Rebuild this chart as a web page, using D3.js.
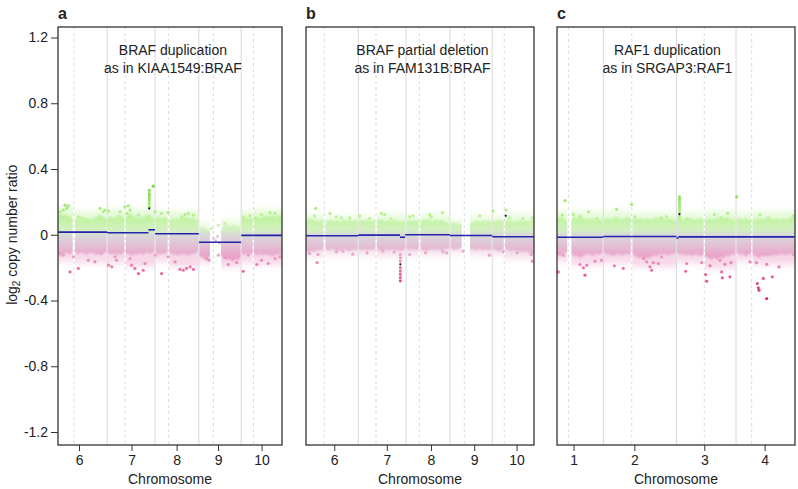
<!DOCTYPE html>
<html lang="en">
<head>
<meta charset="UTF-8">
<title>Copy number profiles</title>
<script src="https://d3js.org/d3.v7.min.js"></script>
<style>
    body { margin: 0; background: #fff; }
    text { font-family: "Liberation Sans", Arial, sans-serif; fill: #222; }
</style>
</head>
<body>
<script>
// ---- data (positions are cumulative Mb inside each panel) ----
const yTicks = [-1.2, -0.8, -0.4, 0, 0.4, 0.8, 1.2];

// panel a
const namesA = ["6", "7", "8", "9", "10"];
const lensA = [171, 159, 146, 141, 136];
const centA = [60, 59.5, 45.5, 48.5, 41];
const tickOffA = [77, 81, 72, 64, 68];
const viewA = [7, 753];
const segA = [[7, 171, 0.016], [171, 308, 0.012], [308, 330, 0.03], [330, 476, 0.006], [476, 617, -0.046], [617, 753, -0.004]];
const bandA = [
    [7, .11, -.12], [15, .13, -.13], [25, .12, -.12], [35, .12, -.11], [45, .11, -.12], [55, .10, -.11], null,
    [64, .09, -.11], [75, .10, -.12], [85, .095, -.11], [95, .10, -.115], [105, .10, -.12], [115, .095, -.11], [125, .10, -.115], [135, .11, -.12], [145, .12, -.12], [155, .11, -.115], [165, .10, -.11], [169, .095, -.11], null,
    [173, .10, -.11], [183, .11, -.12], [193, .10, -.115], [203, .11, -.12], [213, .12, -.12], [223, .11, -.115], [228, .10, -.11], null,
    [233, .11, -.115], [243, .13, -.12], [253, .12, -.125], [263, .11, -.12], [273, .10, -.12], [283, .105, -.115], [293, .11, -.12], [303, .12, -.11], [313, .12, -.115], [323, .10, -.11], [328, .09, -.10], null,
    [332, .10, -.11], [342, .11, -.12], [352, .10, -.115], [362, .11, -.115], [372, .10, -.11], null,
    [378, .09, -.11], [388, .10, -.12], [398, .095, -.12], [408, .10, -.125], [418, .10, -.12], [428, .11, -.12], [438, .105, -.125], [448, .10, -.12], [458, .10, -.115], [468, .095, -.11], [474, .08, -.10], null,
    [478, .04, -.13], [488, .05, -.14], [498, .04, -.15], [508, .03, -.14], [513, .02, -.13], null,
    [550, .03, -.13], [558, .05, -.14], [568, .06, -.15], [578, .05, -.15], [588, .06, -.16], [598, .05, -.15], [608, .05, -.15], [615, .04, -.14], null,
    [619, .10, -.12], [629, .11, -.12], [639, .10, -.115], [649, .105, -.12], [655, .10, -.11], null,
    [660, .10, -.12], [670, .11, -.125], [680, .10, -.12], [690, .11, -.125], [700, .115, -.12], [710, .11, -.125], [720, .12, -.13], [730, .11, -.125], [740, .115, -.12], [753, .12, -.12]
];
// sparse outer fringe of the cloud: [start, end, top, bottom]
const fringeA = [
    [7, 57, .16, -.16], [63, 169, .14, -.17], [173, 228, .15, -.17], [233, 328, .15, -.19],
    [332, 372, .14, -.16], [378, 474, .14, -.19], [478, 513, .07, -.17], [550, 615, .09, -.19],
    [619, 655, .14, -.17], [660, 753, .15, -.18]
];
const dotsA = [
    [13.7, .14], [24.8, .15], [30.3, .18], [35.9, .16], [41.4, .176], [74.7, .109], [85.8, .103], [146.9, .16], [158, .14], [163.5, .15], [174.6, .144],
    [213.5, .14], [230.1, .17], [241.2, .176], [246.8, .15], [235.7, .13], [274.5, .119], [330, .14], [352, .13], [374, .136], [419, .109], [430, .123],
    [441, .13], [458, .119], [502, .018], [519, .038], [541, .058], [563, .069], [624, .109], [646, .115], [663, .103], [685, .123], [713, .134], [730, .13],
    [311, .27], [311, .25], [311, .235], [311, .22], [311, .205], [311, .19], [311, .175], [324, .296],
    [525, -.02], [532, -.035], [538, -.01], [544, -.05],
    [13.7, -.114], [24.8, -.124], [47, -.226], [58, -.134], [74.7, -.205], [108, -.155], [130, -.165], [152, -.114], [175, -.185], [186, -.195],
    [197, -.134], [202, -.155], [247, -.145], [252, -.185], [263, -.205], [275, -.236], [291, -.216], [297, -.175], [330, -.124], [352, -.236],
    [374, -.134], [397, -.165], [413, -.211], [424, -.216], [435, -.205], [447, -.195], [458, -.211], [485, -.114], [502, -.145], [510, -.155],
    [541, -.124], [563, -.14], [574, -.181], [602, -.169], [624, -.222], [641, -.124], [669, -.181], [685, -.155], [707, -.175], [730, -.145], [746, -.134]
];
const markA = [[311, .16]];

// panel b
const namesB = ["6", "7", "8", "9", "10"];
const lensB = [171, 159, 146, 141, 136];
const centB = [58, 59, 44.5, 48, 40];
const tickOffB = [91, 95, 83, 81, 81];
const viewB = [-3, 756];
const segB = [[-3, 171, -0.006], [171, 310, -0.002], [310, 327, -0.015], [327, 476, 0], [476, 617, -0.005], [617, 756, -0.012]];
const bandB = [
    [-3, .09, -.10], [7, .10, -.105], [17, .095, -.10], [27, .09, -.10], [37, .085, -.095], [47, .09, -.09], [55, .085, -.09], null,
    [62, .08, -.09], [72, .085, -.095], [82, .09, -.09], [92, .085, -.095], [102, .09, -.10], [112, .085, -.095], [122, .09, -.09], [132, .085, -.095], [142, .09, -.10], [152, .085, -.09], [162, .09, -.095], [169, .08, -.09], null,
    [173, .085, -.09], [183, .09, -.095], [193, .085, -.09], [203, .09, -.095], [213, .085, -.09], [223, .09, -.09], [228, .08, -.085], null,
    [233, .085, -.09], [243, .095, -.095], [253, .09, -.10], [263, .085, -.09], [273, .09, -.095], [283, .085, -.09], [293, .09, -.095], [303, .085, -.095], [313, .08, -.10], [323, .085, -.09], [328, .08, -.085], null,
    [332, .085, -.09], [342, .09, -.095], [352, .085, -.09], [362, .09, -.095], [372, .085, -.09], null,
    [378, .08, -.09], [388, .09, -.095], [398, .095, -.10], [408, .09, -.095], [418, .085, -.09], [428, .09, -.095], [438, .085, -.09], [448, .09, -.10], [458, .08, -.09], [468, .075, -.085], [474, .06, -.08], null,
    [478, .07, -.085], [488, .075, -.09], [498, .07, -.09], [508, .065, -.085], [515, .06, -.08], null,
    [543, .07, -.085], [555, .08, -.09], [565, .085, -.095], [575, .08, -.09], [585, .085, -.095], [595, .08, -.09], [605, .085, -.095], [615, .08, -.09], null,
    [619, .08, -.09], [629, .085, -.095], [639, .09, -.10], [649, .085, -.095], [655, .08, -.09], null,
    [660, .085, -.09], [670, .09, -.095], [680, .085, -.10], [690, .08, -.095], [700, .085, -.10], [710, .09, -.10], [720, .085, -.105], [730, .08, -.10], [740, .085, -.11], [756, .09, -.12]
];
const fringeB = [
    [-3, 55, .12, -.13], [62, 169, .11, -.12], [173, 228, .11, -.12], [233, 328, .12, -.13],
    [332, 372, .11, -.12], [378, 474, .12, -.12], [478, 515, .09, -.11], [543, 615, .11, -.12],
    [619, 655, .11, -.12], [660, 756, .12, -.14]
];
const dotsB = [
    [29, .16], [26, .115], [77, .13], [98, .109], [115, .103], [142, .103], [176, .115], [209, .099], [248, .13], [259, .123], [281, .099],
    [342, .109], [353, .115], [409, .123], [414, .109], [451, .134], [575, .115], [620, .144], [663, .15], [675, .103], [719, .099], [750, .103],
    [311, -.12], [311, -.14], [311, -.16], [311, -.20], [311, -.22], [311, -.24], [311, -.26], [311, -.28],
    [9, -.114], [34, -.169], [37, -.12], [98, -.104], [120, -.10], [153, -.118], [200, -.11], [253, -.10], [290, -.105], [342, -.12],
    [395, -.11], [453, -.104], [465, -.11], [520, -.10], [608, -.124], [653, -.104], [700, -.11], [747, -.12], [750, -.161]
];
const markB = [[311, -.18], [662, .115]];

// panel c
const namesC = ["1", "2", "3", "4"];
const lensC = [249, 243, 198, 191];
const centC = [133, 94.3, 92.5, 52];
const tickOffC = [150, 103, 92.5, 95];
const viewC = [95, 886];
const segC = [[95, 249, -0.015], [249, 492, -0.011], [492, 498, -0.021], [498, 886, -0.013]];
const bandC = [
    [95, .10, -.12], [105, .11, -.13], [115, .10, -.12], [125, .09, -.11], [129, .08, -.10], null,
    [143, .09, -.12], [153, .11, -.13], [163, .10, -.13], [173, .11, -.14], [183, .10, -.13], [193, .10, -.12], [203, .095, -.12], [213, .10, -.13], [223, .09, -.12], [233, .10, -.12], [243, .09, -.115], [247, .085, -.11], null,
    [251, .09, -.11], [261, .10, -.12], [271, .095, -.12], [281, .10, -.13], [291, .11, -.12], [301, .10, -.12], [311, .095, -.125], [321, .10, -.12], [331, .11, -.12], [340, .10, -.115], null,
    [346, .095, -.12], [356, .10, -.13], [366, .095, -.14], [376, .10, -.14], [386, .09, -.15], [396, .10, -.14], [406, .095, -.14], [416, .10, -.13], [426, .105, -.13], [436, .10, -.12], [446, .105, -.12], [456, .095, -.12], [466, .10, -.125], [476, .095, -.12], [486, .09, -.115], [490, .085, -.11], null,
    [494, .09, -.11], [504, .10, -.12], [514, .095, -.12], [524, .10, -.125], [534, .095, -.12], [544, .10, -.13], [554, .09, -.12], [564, .095, -.125], [574, .10, -.13], [582, .09, -.12], null,
    [587, .09, -.13], [597, .10, -.14], [607, .095, -.15], [617, .10, -.14], [627, .10, -.15], [637, .11, -.14], [647, .10, -.14], [657, .105, -.13], [667, .10, -.13], [677, .095, -.12], [688, .09, -.12], null,
    [692, .09, -.11], [702, .10, -.12], [712, .095, -.12], [722, .10, -.13], [732, .095, -.12], [740, .09, -.115], null,
    [745, .09, -.12], [755, .095, -.13], [765, .10, -.14], [775, .095, -.13], [785, .10, -.13], [795, .095, -.13], [805, .10, -.13], [815, .095, -.125], [825, .10, -.125], [835, .095, -.12], [845, .10, -.12], [855, .095, -.125], [865, .10, -.12], [875, .11, -.115], [886, .115, -.115]
];
const fringeC = [
    [95, 129, .14, -.16], [143, 247, .14, -.18], [251, 340, .14, -.17], [346, 490, .13, -.19],
    [494, 582, .13, -.17], [587, 688, .14, -.2], [692, 740, .13, -.16], [745, 886, .14, -.18]
];
const dotsC = [
    [121.6, .207], [112.7, .119], [149.3, .123], [171, .11], [199.1, .14], [227, .10], [293.3, .154], [343.1, .184], [354, .11], [440.6, .103],
    [459, .11], [529.3, .099], [617.9, .123], [642, .103], [662.2, .13], [692, .231], [769.6, .123], [797, .103], [880.4, .115],
    [502, .23], [502, .215], [502, .20], [502, .185], [502, .17], [502, .155], [502, .14], [502, .11], [502, .095],
    [99.4, -.226], [99, -.115], [116, -.125], [171.4, -.181], [182.5, -.201], [188, -.246], [194, -.185], [221.3, -.161], [243, -.155],
    [285.5, -.189], [315.4, -.205], [382, -.145], [393, -.165], [404, -.195], [409.6, -.216], [415, -.17], [431.8, -.175], [443, -.135],
    [522.6, -.222], [526, -.175], [575.8, -.169], [589, -.242], [592.4, -.283], [603.5, -.189], [637, -.155], [642.3, -.226], [644.5, -.262],
    [653, -.18], [670, -.256], [673, -.17], [736.4, -.165], [758, -.17], [760.8, -.297], [764.1, -.323], [766.3, -.337], [780.7, -.266],
    [792, -.18], [791.8, -.388], [810.6, -.256], [832.8, -.195], [880, -.12]
];
const markC = [[502, .125]];

const letters = ["a", "b", "c"];
const notes = [
    ["BRAF duplication", "as in KIAA1549:BRAF"],
    ["BRAF partial deletion", "as in FAM131B:BRAF"],
    ["RAF1 duplication", "as in SRGAP3:RAF1"]
];

// ---- layout & style ----
const W = 798, H = 489;
const frameTop = 27, frameBottom = 445;
const frames = [[58, 282], [306, 534], [557, 795]];
const noteX = [0.513, 0.511, 0.464];
const colorStops = [
    [-0.4, "#e0246e"], [-0.25, "#e6609e"], [-0.13, "#ea9ec6"], [-0.05, "#dfc3d5"], [0, "#d6d6d6"],
    [0.03, "#d0f0bc"], [0.1, "#bcf29a"], [0.18, "#a2ea76"], [0.3, "#78d838"]
];

const panels = [
    { names: namesA, lens: lensA, cent: centA, tickOff: tickOffA, view: viewA, seg: segA, band: bandA, fringe: fringeA, dots: dotsA, mark: markA },
    { names: namesB, lens: lensB, cent: centB, tickOff: tickOffB, view: viewB, seg: segB, band: bandB, fringe: fringeB, dots: dotsB, mark: markB },
    { names: namesC, lens: lensC, cent: centC, tickOff: tickOffC, view: viewC, seg: segC, band: bandC, fringe: fringeC, dots: dotsC, mark: markC }
];

const svg = d3.select("body").append("svg").attr("width", W).attr("height", H);
const y = d3.scaleLinear().domain([-1.2, 1.2]).range([432, 37.5]);
const color = d3.scaleLinear().domain(colorStops.map(d => d[0])).range(colorStops.map(d => d[1])).clamp(true);

// vertical gradient for the cloud, same colours as the dots
const defs = svg.append("defs");
const g0 = y(0.3), g1 = y(-0.4);
const grad = defs.append("linearGradient").attr("id", "bandFill")
    .attr("gradientUnits", "userSpaceOnUse").attr("x1", 0).attr("x2", 0).attr("y1", g0).attr("y2", g1);
colorStops.slice().reverse().forEach(([v, c]) => {
    grad.append("stop").attr("offset", (y(v) - g0) / (g1 - g0)).attr("stop-color", c);
});
// soft edges for the cloud
defs.append("filter").attr("id", "softFringe").attr("x", "-5%").attr("y", "-50%").attr("width", "110%").attr("height", "200%")
    .append("feGaussianBlur").attr("stdDeviation", "0.6 3.5");
defs.append("filter").attr("id", "softCore").attr("x", "-5%").attr("y", "-30%").attr("width", "110%").attr("height", "160%")
    .append("feGaussianBlur").attr("stdDeviation", "0.3 1.2");

panels.forEach((p, i) => {
    const [left, right] = frames[i];
    const x = d3.scaleLinear().domain(p.view).range([left, right]);
    const starts = [0, ...d3.cumsum(p.lens)].slice(0, p.lens.length);

    defs.append("clipPath").attr("id", "clip" + i)
        .append("rect").attr("x", left).attr("y", frameTop).attr("width", right - left).attr("height", frameBottom - frameTop);

    const g = svg.append("g");
    const plot = g.append("g").attr("clip-path", `url(#clip${i})`);

    // chromosome boundaries and centromeres
    plot.selectAll(".bound").data(starts.slice(1)).join("line")
        .attr("x1", d => x(d)).attr("x2", d => x(d)).attr("y1", frameTop).attr("y2", frameBottom)
        .attr("stroke", "#d9d9d9").attr("stroke-width", 1);
    plot.selectAll(".cent").data(p.cent.map((c, k) => starts[k] + c)).join("line")
        .attr("x1", d => x(d)).attr("x2", d => x(d)).attr("y1", frameTop).attr("y2", frameBottom)
        .attr("stroke", "#d2d2d2").attr("stroke-width", 0.8).attr("stroke-dasharray", "3,3");

    // sparse fringe, then dense core of the probe cloud
    plot.append("g").attr("filter", "url(#softFringe)")
        .selectAll("rect").data(p.fringe).join("rect")
        .attr("x", d => x(d[0])).attr("width", d => x(d[1]) - x(d[0]))
        .attr("y", d => y(d[2])).attr("height", d => y(d[3]) - y(d[2]))
        .attr("fill", "url(#bandFill)").attr("fill-opacity", 0.4);
    const area = d3.area().defined(d => d !== null)
        .x(d => x(d[0])).y0(d => y(d[2])).y1(d => y(d[1]));
    plot.append("path").attr("d", area(p.band)).attr("fill", "url(#bandFill)")
        .attr("fill-opacity", 0.9).attr("filter", "url(#softCore)");

    // scattered probes
    plot.selectAll(".dot").data(p.dots).join("circle")
        .attr("cx", d => x(d[0])).attr("cy", d => y(d[1])).attr("r", 1.6)
        .attr("fill", d => color(d[1]));
    plot.selectAll(".mark").data(p.mark).join("circle")
        .attr("cx", d => x(d[0])).attr("cy", d => y(d[1])).attr("r", 1.1).attr("fill", "#111");

    // segments
    plot.selectAll(".seg").data(p.seg).join("line")
        .attr("x1", d => x(d[0])).attr("x2", d => x(d[1]))
        .attr("y1", d => y(d[2])).attr("y2", d => y(d[2]))
        .attr("stroke", "#2424a8").attr("stroke-width", 1.6);

    // frame
    g.append("rect").attr("x", left).attr("y", frameTop).attr("width", right - left).attr("height", frameBottom - frameTop)
        .attr("fill", "none").attr("stroke", "#333").attr("stroke-width", 1.3);

    // x axis
    const xAxis = d3.axisBottom(x)
        .tickValues(p.tickOff.map((o, k) => starts[k] + o))
        .tickFormat((d, k) => p.names[k])
        .tickSize(6).tickPadding(4);
    const ax = g.append("g").attr("transform", `translate(0,${frameBottom})`).call(xAxis);
    ax.select(".domain").remove();
    ax.selectAll("line").attr("stroke", "#333");
    ax.selectAll("text").attr("font-size", 14).attr("font-family", null).attr("fill", "#222");

    g.append("text").attr("x", (left + right) / 2).attr("y", 484).attr("text-anchor", "middle")
        .attr("font-size", 14).text("Chromosome");

    // panel letter and annotation
    g.append("text").attr("x", left).attr("y", 18.5).attr("font-size", 16).attr("font-weight", "bold").text(letters[i]);
    const nx = left + noteX[i] * (right - left);
    notes[i].forEach((line, k) => {
        g.append("text").attr("x", nx).attr("y", 55 + k * 18.3).attr("text-anchor", "middle")
            .attr("font-size", 14).text(line);
    });

    if (i === 0) {
        const yAxis = d3.axisLeft(y).tickValues(yTicks).tickFormat(d => String(d)).tickSize(7).tickPadding(3);
        const ay = g.append("g").attr("transform", `translate(${left},0)`).call(yAxis);
        ay.select(".domain").remove();
        ay.selectAll("line").attr("stroke", "#333");
        ay.selectAll("text").attr("font-size", 14).attr("font-family", null).attr("fill", "#222");
    }
});

// y title
const yt = svg.append("text").attr("transform", `translate(17,${y(0)}) rotate(-90)`)
    .attr("text-anchor", "middle").attr("font-size", 14);
yt.append("tspan").text("log");
yt.append("tspan").attr("font-size", 10).attr("dy", 3).text("2");
yt.append("tspan").attr("dy", -3).text(" copy number ratio");
</script>
</body>
</html>
